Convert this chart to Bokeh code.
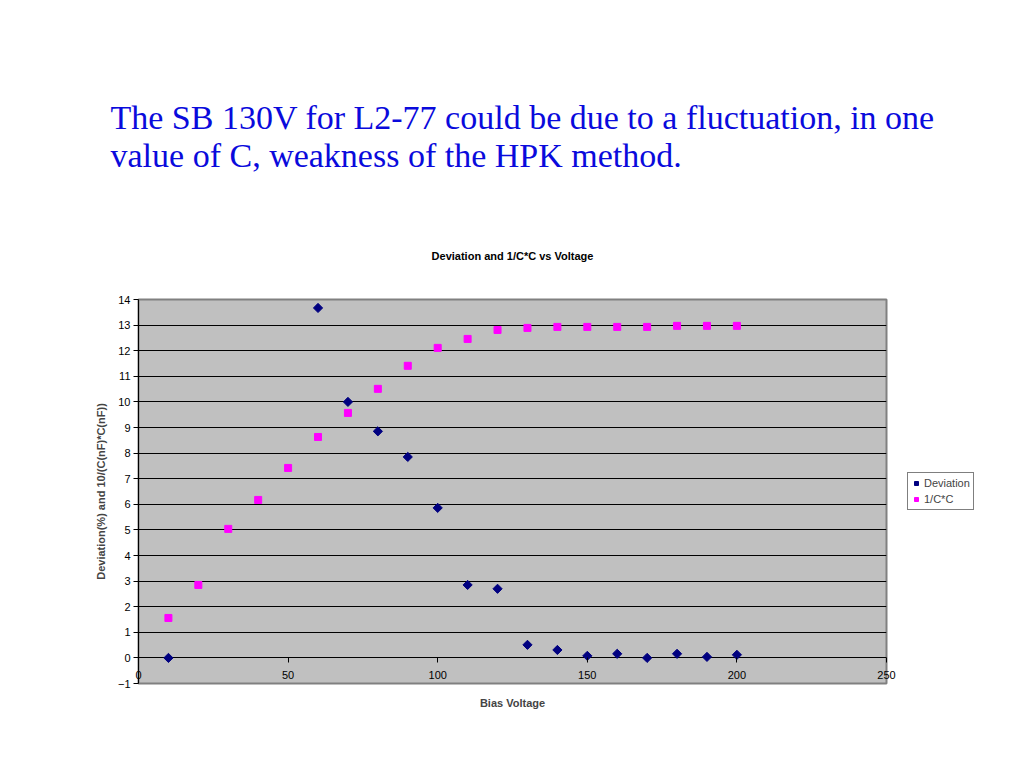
import math
from bokeh.plotting import figure
from bokeh.models import Legend, LegendItem, FixedTicker, Title
from bokeh.embed import file_html
from bokeh.resources import INLINE

heading = "The SB 130V for L2-77 could be due to a fluctuation, in one\nvalue of C, weakness of the HPK method."
chart_title = "Deviation and 1/C*C vs Voltage"
x_label = "Bias Voltage"
y_label = "Deviation(%) and 10/(C(nF)*C(nF))"

dev_v = [10, 60, 70, 80, 90, 100, 110, 120, 130, 140, 150, 160, 170, 180, 190, 200]
dev_y = [0.0, 13.67, 10.0, 8.85, 7.85, 5.86, 2.85, 2.70, 0.51, 0.31, 0.08, 0.16, 0.0, 0.16, 0.04, 0.12]

cc_v = [10, 20, 30, 40, 50, 60, 70, 80, 90, 100, 110, 120, 130, 140, 150, 160, 170, 180, 190, 200]
cc_y = [1.56, 2.85, 5.04, 6.17, 7.42, 8.63, 9.57, 10.51, 11.41, 12.11, 12.46, 12.81, 12.89, 12.93,
        12.93, 12.93, 12.93, 12.97, 12.97, 12.97]

x_ticks = [0, 50, 100, 150, 200, 250]
y_ticks = list(range(-1, 15))

FONT = "Liberation Sans"

p = figure(frame_width=748, frame_height=384, x_range=(0, 250), y_range=(-1, 14),
           output_backend="svg", toolbar_location=None,
           min_border_left=138, min_border_right=0, min_border_top=299, min_border_bottom=77,
           background_fill_color="#c0c0c0", border_fill_color="white",
           outline_line_color="#808080", outline_line_width=2)

# chart title first (closest to the frame), slide heading further out
p.add_layout(Title(text=chart_title, align="center", text_font=FONT, text_font_size="11px",
                   text_font_style="bold", text_color="black", standoff=75), "above")
p.add_layout(Title(text=heading, align="left", offset=-28, text_font="Liberation Serif",
                   text_font_size="34px", text_font_style="normal", text_color="#0a0adc",
                   text_line_height=1.05, standoff=72), "above")

# x axis: ticks and labels placed at the y = 0 line
xa = p.xaxis[0]
xa.ticker = FixedTicker(ticks=x_ticks)
xa.axis_line_color = None
xa.major_tick_line_color = "black"
xa.minor_tick_line_color = None
xa.major_tick_in = 26
xa.major_tick_out = -21
xa.minor_tick_in = 0
xa.minor_tick_out = 0
xa.major_label_standoff = -13
xa.major_label_text_font = FONT
xa.major_label_text_font_size = "11px"
xa.major_label_text_color = "black"
xa.axis_label = x_label
xa.axis_label_text_font = FONT
xa.axis_label_text_font_size = "11px"
xa.axis_label_text_font_style = "bold"
xa.axis_label_standoff = 15

ya = p.yaxis[0]
ya.ticker = FixedTicker(ticks=y_ticks)
ya.axis_line_color = "black"
ya.major_tick_line_color = "black"
ya.minor_tick_line_color = None
ya.major_tick_in = 0
ya.major_tick_out = 5
ya.major_label_standoff = 3
ya.major_label_text_font = FONT
ya.major_label_text_font_size = "11px"
ya.major_label_text_color = "black"
ya.axis_label = y_label
ya.axis_label_text_font = FONT
ya.axis_label_text_font_size = "11px"
ya.axis_label_text_font_style = "bold"
ya.axis_label_standoff = 8

p.xgrid.grid_line_color = None
p.ygrid.ticker = FixedTicker(ticks=y_ticks)
p.ygrid.grid_line_color = "black"
p.ygrid.grid_line_width = 1

r1 = p.scatter(dev_v, dev_y, marker="square", angle=math.pi / 4, size=6.5,
               fill_color="#000080", line_color="#000080")
r2 = p.scatter(cc_v, cc_y, marker="square", size=7, fill_color="#ff00ff", line_color="#ff00ff")

legend = Legend(items=[LegendItem(label="Deviation", renderers=[r1]),
                       LegendItem(label="1/C*C", renderers=[r2])],
                location="center_left", margin=21, padding=3, spacing=2,
                label_text_font=FONT, label_text_font_size="11px",
                label_height=14, glyph_height=12, glyph_width=10, label_standoff=3,
                border_line_color="black", border_line_width=1,
                background_fill_color="white", background_fill_alpha=1.0)
p.add_layout(legend, "right")

open("out.html", "w").write(file_html(p, INLINE))
